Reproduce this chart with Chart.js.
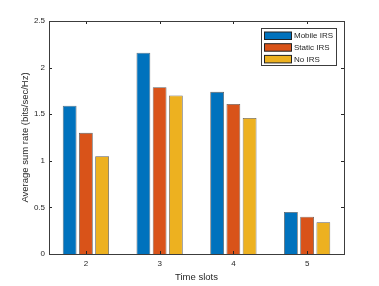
<!DOCTYPE html>
<html>
<head>
<meta charset="utf-8">
<script src="https://cdn.jsdelivr.net/npm/chart.js@4.4.1/dist/chart.umd.min.js"></script>
<style>
  body { margin: 0; background: #fff; }
  canvas { display: block; }
</style>
</head>
<body>
<canvas id="chart" width="379" height="286"></canvas>
<script>
// data
const timeSlots = ["2", "3", "4", "5"];
const mobileIRS = [1.59, 2.16, 1.74, 0.45];
const staticIRS = [1.30, 1.79, 1.61, 0.40];
const noIRS = [1.05, 1.70, 1.46, 0.34];
const yTicks = [0, 0.5, 1, 1.5, 2, 2.5];

const FONT = "'Liberation Sans', Arial, Helvetica, sans-serif";
const TEXT = "#262626";

// box round the axes + inward ticks, matlab style
const axesBox = {
    id: "axesBox",
    afterDraw(chart) {
        const ctx = chart.ctx;
        const a = chart.chartArea;
        const x = chart.scales.x;
        const y = chart.scales.y;
        ctx.save();
        ctx.strokeStyle = TEXT;
        ctx.lineWidth = 1;
        ctx.beginPath();
        x.ticks.forEach((t, i) => {
            const px = Math.round(x.getPixelForTick(i)) + 0.5;
            ctx.moveTo(px, a.bottom); ctx.lineTo(px, a.bottom - 3);
            ctx.moveTo(px, a.top); ctx.lineTo(px, a.top + 3);
        });
        y.ticks.forEach(t => {
            const py = Math.round(y.getPixelForValue(t.value)) + 0.5;
            ctx.moveTo(a.left, py); ctx.lineTo(a.left + 3, py);
            ctx.moveTo(a.right, py); ctx.lineTo(a.right - 3, py);
        });
        ctx.stroke();
        ctx.strokeStyle = "#3c3c3c";
        ctx.strokeRect(Math.round(a.left) + 0.5, Math.round(a.top) + 0.5,
            Math.round(a.right - a.left), Math.round(a.bottom - a.top));
        ctx.restore();
    }
};

// legend inside the top right corner
const insideLegend = {
    id: "insideLegend",
    afterDraw(chart) {
        const ctx = chart.ctx;
        const a = chart.chartArea;
        const bx = a.right - 83, by = a.top + 7, bw = 75, bh = 37;
        ctx.save();
        ctx.fillStyle = "#fff";
        ctx.fillRect(bx, by, bw, bh);
        ctx.strokeStyle = "#3c3c3c";
        ctx.lineWidth = 1;
        ctx.strokeRect(bx + 0.5, by + 0.5, bw, bh);
        ctx.font = "8px " + FONT;
        ctx.textBaseline = "middle";
        chart.data.datasets.forEach((ds, i) => {
            const ry = by + 4 + i * 11.7;
            ctx.fillStyle = ds.backgroundColor;
            ctx.fillRect(bx + 3.5, ry, 27, 7.5);
            ctx.strokeStyle = "#222";
            ctx.strokeRect(bx + 3.5, ry, 27, 7.5);
            ctx.fillStyle = TEXT;
            ctx.fillText(ds.label, bx + 33, ry + 4);
        });
        ctx.restore();
    }
};

new Chart(document.getElementById("chart"), {
    type: "bar",
    data: {
        labels: timeSlots,
        datasets: [
            { label: "Mobile IRS", data: mobileIRS, backgroundColor: "#0072BD" },
            { label: "Static IRS", data: staticIRS, backgroundColor: "#D95319" },
            { label: "No IRS", data: noIRS, backgroundColor: "#EDB120" }
        ].map(d => Object.assign(d, {
            borderColor: "rgba(40,40,40,0.75)",
            borderWidth: 0.8,
            categoryPercentage: 0.66,
            barPercentage: 0.85
        }))
    },
    options: {
        responsive: false,
        animation: false,
        layout: { padding: { top: 21, right: 35, left: 0, bottom: 0 } },
        plugins: {
            legend: { display: false },
            tooltip: { enabled: false }
        },
        scales: {
            x: {
                offset: true,
                grid: { display: false, drawTicks: false, tickLength: 0 },
                border: { display: false },
                ticks: { color: TEXT, font: { family: FONT, size: 8 }, padding: 5 },
                title: {
                    display: true, text: "Time slots", color: TEXT,
                    font: { family: FONT, size: 9.5 }, padding: { top: 0, bottom: 3 }
                },
                afterFit(s) { s.height = 32; }
            },
            y: {
                min: 0,
                max: 2.5,
                grid: { display: false, drawTicks: false, tickLength: 0 },
                border: { display: false },
                afterBuildTicks(s) { s.ticks = yTicks.map(v => ({ value: v })); },
                ticks: {
                    color: TEXT, font: { family: FONT, size: 8 }, padding: 4,
                    callback: v => String(v)
                },
                title: {
                    display: true, text: "Average sum rate (bits/sec/Hz)", color: TEXT,
                    font: { family: FONT, size: 9.5 }, padding: { top: 20, bottom: 0 }
                },
                afterFit(s) { s.width = 49; }
            }
        }
    },
    plugins: [axesBox, insideLegend]
});
</script>
</body>
</html>
